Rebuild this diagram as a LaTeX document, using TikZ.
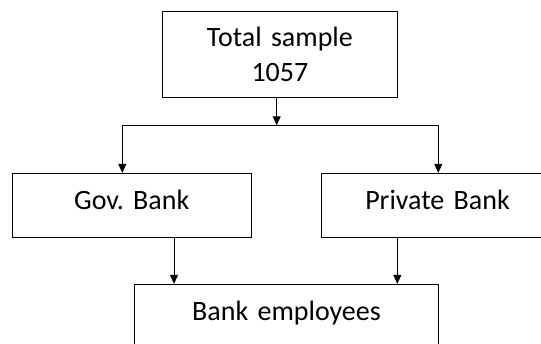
\documentclass[tikz,border=0pt]{standalone}
\usepackage{fontspec}
\setmainfont{Carlito}
\usepackage{tikz}
\usetikzlibrary{arrows.meta, positioning}
\frenchspacing

\begin{document}
\begin{tikzpicture}
	[   x=1pt,y=-1pt,
	    bbox/.style={draw=black,line width=0.9pt,inner sep=0pt,align=center,text width=#1,
	                 font=\fontsize{28}{35}\selectfont,anchor=base},
	]
	\tikzset{down arrow/.style={draw,line width=0.9pt,-{Triangle[width=8pt,length=9pt]}}}
	\useasboundingbox (0,0) rectangle (541,343);
	\clip (0,0) rectangle (541,343);
	
	\node[bbox=235.2pt,text height=35pt,text depth=50.6pt] (total) at (279.9,46.7) {Total sample\\1057};
	\node[bbox=238.9pt,text height=36pt,text depth=27.7pt] (gov) at (131.75,209.3) {Gov.\ Bank};
	\node[bbox=233pt,text height=36pt,text depth=27.7pt] (priv) at (437.5,209.3) {Private Bank};
	\node[bbox=303.7pt,text height=36.5pt,text depth=30pt] (emp) at (286.5,320.8) {Bank employees};
	
	\coordinate (split) at (276.7,125.3);
	\coordinate (sl) at (122.3,125.3);
	\coordinate (sr) at (438.3,125.3);
	
	\path[down arrow] (total.south -| split) -- (split);
	\draw[line width=0.9pt] (sl) -- (sr);
	\path[down arrow] (sl) -- (sl |- gov.north);
	\path[down arrow] (sr) -- (sr |- priv.north);
	\path[down arrow] ([xshift=42.25pt]gov.south) -- ([xshift=42.25pt]gov.south |- emp.north);
	\path[down arrow] ([xshift=-40.2pt]priv.south) -- ([xshift=-40.2pt]priv.south |- emp.north);
\end{tikzpicture}
\end{document}
